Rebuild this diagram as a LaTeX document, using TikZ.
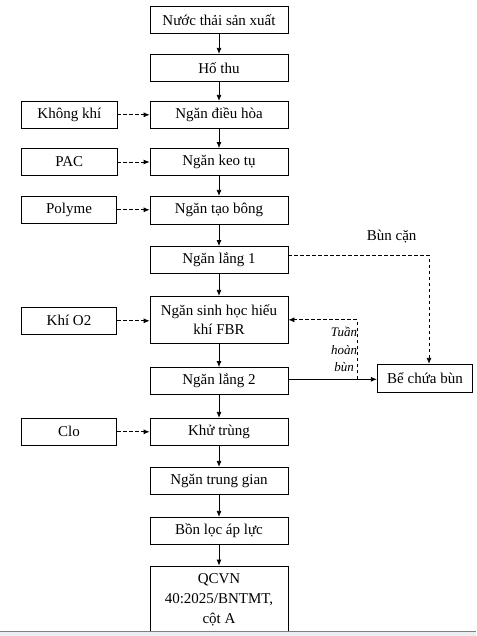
\documentclass[tikz,border=0pt]{standalone}
\usepackage{fontspec}
\setmainfont{Liberation Serif}
\usetikzlibrary{arrows.meta}
\begin{document}
\begin{tikzpicture}[x=1pt,y=-1pt,line width=0.8pt,
  box/.style={draw,minimum width=138pt,minimum height=27pt,inner sep=1pt,font=\fontsize{15}{19}\selectfont,align=center},
  sidebox/.style={box,minimum width=95.5pt},
  flow/.style={-{Latex[length=6pt,width=5pt]}},
  feed/.style={flow,dash pattern=on 3.5pt off 2.5pt}]
\useasboundingbox (0,0) rectangle (476,636);
\clip (0,0) rectangle (476,636);
\node[box] (n1) at (219,19.8) {Nước thải sản xuất};
\node[box] (n2) at (219,67.8) {Hố thu};
\node[box] (n3) at (219,114.8) {Ngăn điều hòa};
\node[box] (n4) at (219,162) {Ngăn keo tụ};
\node[box,minimum height=28pt] (n5) at (219,210.3) {Ngăn tạo bông};
\node[box] (n6) at (219,260) {Ngăn lắng 1};
\node[box,minimum height=47pt] (n7) at (219,319.8) {Ngăn sinh học hiếu\\khí FBR};
\node[box] (n8) at (219,381) {Ngăn lắng 2};
\node[box] (n9) at (219,431.8) {Khử trùng};
\node[box] (n10) at (219,480.8) {Ngăn trung gian};
\node[box] (n11) at (219,530.8) {Bồn lọc áp lực};
\node[box,minimum height=68pt,font=\fontsize{15}{20}\selectfont] (n12) at (219,600) {QCVN\\40:2025/BNTMT,\\cột A};
\node[sidebox] (khongkhi) at (69.3,114.8) {Không khí};
\node[sidebox] (pac) at (69.3,162) {PAC};
\node[sidebox] (polyme) at (69,209.8) {Polyme};
\node[sidebox] (o2) at (69,320.8) {Khí O2};
\node[sidebox] (clo) at (69,431.8) {Clo};
\node[sidebox,minimum height=28pt] (bechua) at (425,378.3) {Bể chứa bùn};
\node[font=\fontsize{15}{19}\selectfont] (buncan) at (391.7,236.7) {Bùn cặn};
\node[font=\fontsize{13}{17.5}\itshape,align=center,inner sep=0pt] (tuanhoan) at (344,349.5) {Tuần\\hoàn\\bùn};
\coordinate (tuan) at (357.3,379.3);
\foreach \a/\b in {n1/n2,n2/n3,n3/n4,n4/n5,n5/n6,n6/n7,n7/n8,n8/n9,n9/n10,n10/n11,n11/n12}
  \draw[flow] (\a) -- (\b);
\foreach \s/\t in {khongkhi/n3,pac/n4,polyme/n5,o2/n7,clo/n9}
  \draw[feed] (\s.east) -- (\s.east -| \t.west);
\draw[feed] ([yshift=4.7pt]n6.east) -| (429,0 |- bechua.north);
\draw[flow] (tuan -| n8.east) -- (tuan -| bechua.west);
\draw[feed] (tuan) |- (n7.east);
\fill[color={rgb,255:red,236;green,237;blue,241}] (0,631) rectangle (476,636);
\draw[color=gray,line width=0.7pt] (0,631) -- (476,631);
\end{tikzpicture}
\end{document}
